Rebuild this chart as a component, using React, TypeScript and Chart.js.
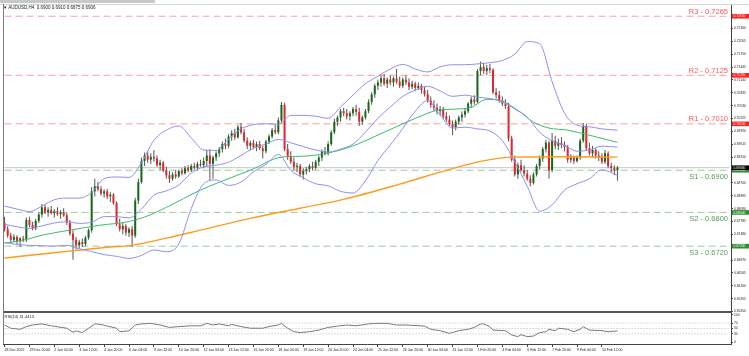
import React, { useEffect, useRef } from "react";
import { Chart, registerables } from "chart.js";

Chart.register(...registerables);

// ---------- data ----------
const SYMBOL = "AUDUSD,H4";
const DATE_LABELS = [
  "28 Dec 2022", "29 Dec 20:00", "2 Jan 04:00", "3 Jan 12:00", "4 Jan 20:00",
  "6 Jan 04:00", "9 Jan 12:00", "10 Jan 20:00", "12 Jan 04:00", "13 Jan 12:00",
  "16 Jan 20:00", "18 Jan 04:00", "19 Jan 12:00", "20 Jan 20:00", "24 Jan 04:00",
  "25 Jan 12:00", "26 Jan 20:00", "30 Jan 04:00", "31 Jan 12:00", "1 Feb 20:00",
  "3 Feb 04:00", "6 Feb 12:00", "7 Feb 20:00", "9 Feb 04:00", "10 Feb 12:00",
];
const LABEL_STEP = 8;
const SLOTS = 234;

const OPEN = [
  0.6775,0.6760,0.6745,0.6735,0.6742,0.6732,0.6738,0.6735,0.6782,0.6770,
  0.6762,0.6780,0.6795,0.6812,0.6800,0.6806,0.6798,0.6803,0.6796,0.6800,
  0.6793,0.6776,0.6750,0.6735,0.6722,0.6730,0.6725,0.6740,0.6758,0.6850,
  0.6862,0.6855,0.6845,0.6850,0.6838,0.6842,0.6822,0.6772,0.6760,0.6768,
  0.6752,0.6760,0.6745,0.6828,0.6872,0.6922,0.6935,0.6925,0.6932,0.6928,
  0.6912,0.6918,0.6900,0.6888,0.6880,0.6890,0.6885,0.6898,0.6893,0.6905,
  0.6900,0.6910,0.6906,0.6915,0.6912,0.6922,0.6935,0.6915,0.6930,0.6940,
  0.6950,0.6962,0.6958,0.6980,0.6988,0.6978,0.7002,0.6990,0.6970,0.6958,
  0.6965,0.6955,0.6962,0.6952,0.6945,0.6968,0.6980,0.6995,0.6990,0.7018,
  0.7055,0.6950,0.6932,0.6920,0.6908,0.6910,0.6890,0.6898,0.6902,0.6910,
  0.6906,0.6920,0.6930,0.6945,0.6940,0.6962,0.6990,0.7015,0.7025,0.7040,
  0.7035,0.7028,0.7035,0.7045,0.7038,0.7015,0.7025,0.7040,0.7062,0.7080,
  0.7100,0.7108,0.7118,0.7105,0.7115,0.7108,0.7118,0.7110,0.7100,0.7115,
  0.7108,0.7098,0.7105,0.7095,0.7100,0.7090,0.7080,0.7065,0.7055,0.7048,
  0.7040,0.7045,0.7028,0.7020,0.7010,0.7002,0.7015,0.7025,0.7032,0.7040,
  0.7058,0.7068,0.7062,0.7135,0.7145,0.7135,0.7142,0.7138,0.7085,0.7078,
  0.7065,0.7058,0.7052,0.6975,0.6925,0.6890,0.6912,0.6900,0.6892,0.6880,
  0.6870,0.6890,0.6910,0.6928,0.6950,0.6965,0.6900,0.6970,0.6958,0.6965,
  0.6960,0.6955,0.6925,0.6930,0.6922,0.6930,0.6970,0.7005,0.6952,0.6940,
  0.6948,0.6935,0.6930,0.6920,0.6940,0.6910,0.6905,0.6900,
];
const HIGH = [
  0.6790,0.6768,0.6752,0.6748,0.6746,0.6742,0.6745,0.6788,0.6790,0.6778,
  0.6785,0.6800,0.6820,0.6818,0.6812,0.6815,0.6808,0.6812,0.6806,0.6810,
  0.6800,0.6782,0.6758,0.6742,0.6735,0.6738,0.6745,0.6762,0.6860,0.6880,
  0.6872,0.6862,0.6855,0.6856,0.6848,0.6846,0.6826,0.6785,0.6775,0.6772,
  0.6765,0.6768,0.6835,0.6880,0.6930,0.6942,0.6945,0.6940,0.6948,0.6935,
  0.6925,0.6922,0.6908,0.6898,0.6895,0.6900,0.6902,0.6905,0.6910,0.6912,
  0.6915,0.6918,0.6920,0.6925,0.6930,0.6948,0.6950,0.6935,0.6945,0.6955,
  0.6968,0.6975,0.6985,0.6995,0.6998,0.7008,0.7012,0.6998,0.6978,0.6970,
  0.6972,0.6968,0.6970,0.6958,0.6972,0.6985,0.7000,0.7008,0.7025,0.7062,
  0.7060,0.6962,0.6945,0.6930,0.6918,0.6915,0.6905,0.6908,0.6915,0.6920,
  0.6925,0.6935,0.6950,0.6955,0.6968,0.6995,0.7022,0.7030,0.7045,0.7048,
  0.7045,0.7040,0.7050,0.7055,0.7048,0.7030,0.7045,0.7068,0.7085,0.7105,
  0.7115,0.7125,0.7128,0.7120,0.7125,0.7122,0.7140,0.7122,0.7120,0.7125,
  0.7118,0.7112,0.7110,0.7108,0.7105,0.7098,0.7090,0.7075,0.7065,0.7058,
  0.7052,0.7050,0.7038,0.7030,0.7018,0.7020,0.7030,0.7040,0.7045,0.7062,
  0.7075,0.7078,0.7140,0.7158,0.7155,0.7150,0.7152,0.7142,0.7095,0.7088,
  0.7075,0.7068,0.7060,0.6982,0.6935,0.6918,0.6925,0.6912,0.6900,0.6888,
  0.6895,0.6915,0.6935,0.6955,0.6972,0.6970,0.6988,0.6982,0.6975,0.6978,
  0.6968,0.6960,0.6938,0.6935,0.6935,0.6975,0.7012,0.7010,0.6965,0.6958,
  0.6952,0.6945,0.6940,0.6948,0.6945,0.6918,0.6912,0.6910,
];
const LOW = [
  0.6755,0.6740,0.6728,0.6730,0.6725,0.6718,0.6730,0.6730,0.6765,0.6758,
  0.6758,0.6775,0.6788,0.6796,0.6790,0.6795,0.6788,0.6792,0.6785,0.6790,
  0.6770,0.6745,0.6688,0.6712,0.6715,0.6718,0.6720,0.6735,0.6752,0.6838,
  0.6850,0.6840,0.6835,0.6832,0.6825,0.6818,0.6768,0.6755,0.6748,0.6745,
  0.6742,0.6718,0.6740,0.6820,0.6868,0.6910,0.6918,0.6915,0.6920,0.6908,
  0.6900,0.6895,0.6880,0.6870,0.6875,0.6880,0.6882,0.6888,0.6890,0.6895,
  0.6896,0.6902,0.6900,0.6908,0.6905,0.6908,0.6876,0.6880,0.6922,0.6932,
  0.6942,0.6950,0.6952,0.6970,0.6972,0.6975,0.6985,0.6965,0.6950,0.6948,
  0.6950,0.6945,0.6948,0.6928,0.6940,0.6962,0.6975,0.6985,0.6985,0.7012,
  0.6945,0.6925,0.6915,0.6900,0.6895,0.6885,0.6878,0.6890,0.6895,0.6900,
  0.6902,0.6910,0.6922,0.6935,0.6935,0.6958,0.6985,0.7005,0.7015,0.7028,
  0.7020,0.7018,0.7028,0.7030,0.7005,0.7008,0.7020,0.7035,0.7055,0.7072,
  0.7090,0.7098,0.7100,0.7095,0.7102,0.7098,0.7105,0.7095,0.7095,0.7102,
  0.7090,0.7092,0.7088,0.7090,0.7082,0.7075,0.7060,0.7048,0.7040,0.7032,
  0.7030,0.7022,0.7015,0.7005,0.6983,0.6995,0.7008,0.7015,0.7025,0.7035,
  0.7048,0.7055,0.7058,0.7125,0.7128,0.7125,0.7130,0.7080,0.7070,0.7060,
  0.7052,0.7045,0.6968,0.6920,0.6885,0.6880,0.6895,0.6885,0.6875,0.6862,
  0.6866,0.6885,0.6902,0.6920,0.6942,0.6880,0.6895,0.6950,0.6948,0.6952,
  0.6945,0.6918,0.6918,0.6915,0.6918,0.6925,0.6965,0.6948,0.6935,0.6930,
  0.6928,0.6922,0.6915,0.6915,0.6905,0.6895,0.6888,0.6875,
];
const CLOSE = [
  0.6760,0.6745,0.6735,0.6742,0.6732,0.6738,0.6735,0.6782,0.6770,0.6762,
  0.6780,0.6795,0.6812,0.6800,0.6806,0.6798,0.6803,0.6796,0.6800,0.6793,
  0.6776,0.6750,0.6735,0.6722,0.6730,0.6725,0.6740,0.6758,0.6850,0.6862,
  0.6855,0.6845,0.6850,0.6838,0.6842,0.6822,0.6772,0.6760,0.6768,0.6752,
  0.6760,0.6745,0.6828,0.6872,0.6922,0.6935,0.6925,0.6932,0.6928,0.6912,
  0.6918,0.6900,0.6888,0.6880,0.6890,0.6885,0.6898,0.6893,0.6905,0.6900,
  0.6910,0.6906,0.6915,0.6912,0.6922,0.6935,0.6915,0.6930,0.6940,0.6950,
  0.6962,0.6958,0.6980,0.6988,0.6978,0.7002,0.6990,0.6970,0.6958,0.6965,
  0.6955,0.6962,0.6952,0.6945,0.6968,0.6980,0.6995,0.6990,0.7018,0.7055,
  0.6950,0.6932,0.6920,0.6908,0.6910,0.6890,0.6898,0.6902,0.6910,0.6906,
  0.6920,0.6930,0.6945,0.6940,0.6962,0.6990,0.7015,0.7025,0.7040,0.7035,
  0.7028,0.7035,0.7045,0.7038,0.7015,0.7025,0.7040,0.7062,0.7080,0.7100,
  0.7108,0.7118,0.7105,0.7115,0.7108,0.7118,0.7110,0.7100,0.7115,0.7108,
  0.7098,0.7105,0.7095,0.7100,0.7090,0.7080,0.7065,0.7055,0.7048,0.7040,
  0.7045,0.7028,0.7020,0.7010,0.7002,0.7015,0.7025,0.7032,0.7040,0.7058,
  0.7068,0.7062,0.7135,0.7145,0.7135,0.7142,0.7138,0.7085,0.7078,0.7065,
  0.7058,0.7052,0.6975,0.6925,0.6890,0.6912,0.6900,0.6892,0.6880,0.6870,
  0.6890,0.6910,0.6928,0.6950,0.6965,0.6900,0.6970,0.6958,0.6965,0.6960,
  0.6955,0.6925,0.6930,0.6922,0.6930,0.6970,0.7005,0.6952,0.6940,0.6948,
  0.6935,0.6930,0.6920,0.6940,0.6910,0.6905,0.6900,0.6906,
];

// Bollinger bands (read at sample bars)
const BB_BARS = [
  0,4,8,12,16,20,24,28,32,36,40,44,48,52,56,60,64,68,72,76,80,84,88,92,96,
  100,104,108,112,116,120,124,128,132,136,140,144,148,152,156,160,164,168,172,176,180,184,188,192,197,
];
const BB_UPPER = [
  0.6815,0.6808,0.6802,0.6815,0.6830,0.6834,0.6834,0.6847,0.6880,0.6884,0.6883,0.6918,0.6971,0.6995,0.7005,0.6977,0.6948,0.6947,0.6974,0.6998,0.7008,0.7010,0.7009,0.7030,0.7030,
  0.7028,0.7023,0.7050,0.7078,0.7105,0.7123,0.7140,0.7151,0.7140,0.7133,0.7145,0.7150,0.7150,0.7152,0.7155,0.7160,0.7175,0.7205,0.7200,0.7110,0.7035,0.7007,0.7003,0.6998,0.6995,
];
const BB_MIDDLE = [
  0.6772,0.6766,0.6762,0.6768,0.6775,0.6778,0.6774,0.6777,0.6790,0.6790,0.6787,0.6808,0.6841,0.6851,0.6865,0.6893,0.6908,0.6912,0.6919,0.6935,0.6952,0.6962,0.6973,0.6965,0.6956,
  0.6948,0.6943,0.6950,0.6962,0.6990,0.7023,0.7050,0.7075,0.7090,0.7099,0.7088,0.7075,0.7078,0.7073,0.7070,0.7062,0.7045,0.7026,0.6990,0.6970,0.6959,0.6945,0.6948,0.6957,0.6955,
];
const BB_LOWER = [
  0.6729,0.6724,0.6722,0.6721,0.6720,0.6722,0.6714,0.6707,0.6700,0.6696,0.6691,0.6698,0.6711,0.6707,0.6725,0.6809,0.6868,0.6877,0.6864,0.6872,0.6896,0.6914,0.6937,0.6900,0.6882,
  0.6868,0.6863,0.6850,0.6846,0.6875,0.6923,0.6960,0.6999,0.7040,0.7065,0.7031,0.7000,0.7002,0.6998,0.6993,0.6970,0.6920,0.6862,0.6803,0.6818,0.6853,0.6868,0.6880,0.6901,0.6888,
];

// moving averages (read at sample bars)
const GREEN_BARS = [0,6,12,21,31,39,45,52,63,73,79,89,95,102,111,122,133,139,145,150,155,159,165,170,175,181,188,197];
const GREEN_MA = [
  0.6727,0.6734,0.6746,0.6758,0.6770,0.6777,0.6789,0.6812,0.6853,0.6883,0.6900,0.6931,0.6933,0.6938,
  0.6955,0.6990,0.7026,0.7042,0.7045,0.7049,0.7068,0.7066,0.7042,0.7014,0.7000,0.6995,0.6983,0.6966,
];
const ORANGE_BARS = [0,9,23,34,41,52,63,79,95,109,127,143,153,163,179,197];
const ORANGE_MA = [0.6692,0.6699,0.6710,0.6718,0.6722,0.6739,0.6758,0.6786,0.6810,0.6831,0.6867,0.6902,0.6921,0.6931,0.6932,0.6931];

// RSI(14)
const RSI_BARS = [
  0,2,5,7,9,12,15,20,22,23,25,27,29,31,33,36,37,40,42,44,47,50,53,56,60,63,65,67,69,72,73,76,79,83,85,88,89,
  91,93,95,98,101,104,107,110,113,117,119,123,126,129,135,137,140,143,146,149,151,153,154,156,157,161,163,
  165,166,168,170,172,174,175,177,178,181,183,185,186,188,192,194,197,
];
const RSI_VALUES = [
  63,51,47,57,63,67,60,51,36,41,35,51,67,65,59,51,38,41,63,67,69,63,54,57,60,60,69,63,67,60,65,57,51,51,57,63,69,
  51,38,35,38,44,54,59,63,60,67,69,69,63,63,59,47,42,32,42,47,54,67,67,57,44,42,26,
  20,27,20,22,35,38,47,42,51,47,38,47,57,44,42,38,41,
];
const RSI_TEXT = "RSI(14) 41.4413";

// levels and axis ticks
const RES_NAMES = ["R3", "R2", "R1"];
const RES_LEVELS = [0.7265, 0.7125, 0.701];
const SUP_NAMES = ["S1", "S2", "S3"];
const SUP_LEVELS = [0.69, 0.68, 0.672];
const PRICE_TICKS = [
  0.7236, 0.72055, 0.7175, 0.71445, 0.7114, 0.70835, 0.7053, 0.70225, 0.6992, 0.69615, 0.6931,
  0.687, 0.68395, 0.6809, 0.67785, 0.6748, 0.6687, 0.66565, 0.6626, 0.65955, 0.6565,
];
const PRICE_MIN = 0.6564;
const PRICE_MAX = 0.7294;
const RSI_TICKS = [0, 30, 50, 70, 100];
const RSI_LEVELS = [70, 50, 30];
const RSI_MIN = -7.4;
const RSI_MAX = 111.1;

// ---------- helpers ----------
const FONT = '"Liberation Sans", Arial, sans-serif';
const SLOT_LABELS = Array.from({ length: SLOTS }, (_, i) => i);
const pts = (bars: number[], vals: number[]) => bars.map((b, i) => ({ x: b, y: vals[i] }));
const flat = (v: number) => [{ x: 0, y: v }, { x: SLOTS - 1, y: v }];

const UP = "#17691a";
const DOWN = "#e4262a";
const WICK = "#555555";
const RED_LINE = "#ff9e9e";
const GREEN_LINE = "#9fcb9f";
const RED_TEXT = "#ff5a5a";
const GREEN_TEXT = "#5a9c5a";

function lineDs(data: any[], color: string, width = 1, order = 1, extra: any = {}) {
  return {
    type: "line",
    data,
    borderColor: color,
    borderWidth: width,
    pointRadius: 0,
    fill: false,
    order,
    ...extra,
  };
}

const mainPlugin = {
  id: "mainDecor",
  afterDraw(chart: any) {
    const ctx = chart.ctx;
    const y = chart.scales.y;
    ctx.save();
    ctx.fillStyle = "#c8c8c8";
    ctx.fillRect(0, 0, 155, 3);
    ctx.strokeStyle = "#d6d6d6";
    ctx.lineWidth = 1;
    ctx.beginPath();
    ctx.moveTo(0, 4.5);
    ctx.lineTo(749, 4.5);
    ctx.stroke();
    ctx.strokeStyle = "#7a7a7a";
    ctx.beginPath();
    ctx.moveTo(3.5, 4);
    ctx.lineTo(3.5, 313);
    ctx.stroke();

    const n = CLOSE.length - 1;
    ctx.fillStyle = "#222";
    ctx.font = `4.5px ${FONT}`;
    ctx.textAlign = "left";
    ctx.textBaseline = "middle";
    ctx.fillText(
      `\u25BE ${SYMBOL}  ${OPEN[n].toFixed(4)} ${HIGH[n].toFixed(4)} ${LOW[n].toFixed(4)} ${CLOSE[n].toFixed(4)}`,
      4, 8
    );

    ctx.font = `7.5px ${FONT}`;
    ctx.textAlign = "right";
    ctx.textBaseline = "alphabetic";
    RES_LEVELS.forEach((v, i) => {
      ctx.fillStyle = RED_TEXT;
      ctx.fillText(`${RES_NAMES[i]} - ${v.toFixed(4)}`, 728, y.getPixelForValue(v) - 2.5);
    });
    SUP_LEVELS.forEach((v, i) => {
      ctx.fillStyle = GREEN_TEXT;
      ctx.fillText(`${SUP_NAMES[i]} - ${v.toFixed(4)}`, 728, y.getPixelForValue(v) + 8.5);
    });

    const box = (v: number, bg: string) => {
      const py = y.getPixelForValue(v);
      ctx.fillStyle = bg;
      ctx.fillRect(732, py - 2.3, 17, 4.6);
      ctx.fillStyle = "#fff";
      ctx.font = `3.3px ${FONT}`;
      ctx.textAlign = "left";
      ctx.textBaseline = "middle";
      ctx.fillText(v.toFixed(5), 733.5, py + 0.2);
    };
    RES_LEVELS.forEach((v) => box(v, "#ff1f1f"));
    SUP_LEVELS.forEach((v) => box(v, "#2e8b2e"));
    box(CLOSE[n], "#000000");
    ctx.restore();
  },
};

const rsiPlugin = {
  id: "rsiDecor",
  afterDraw(chart: any) {
    const ctx = chart.ctx;
    const { left, right, bottom } = chart.chartArea;
    ctx.save();
    ctx.fillStyle = "#555";
    ctx.fillRect(left, 1, right - left + 1, 2);
    ctx.strokeStyle = "#7a7a7a";
    ctx.lineWidth = 1;
    ctx.beginPath();
    ctx.moveTo(3.5, 0);
    ctx.lineTo(3.5, bottom);
    ctx.stroke();
    ctx.fillStyle = "#222";
    ctx.font = `4px ${FONT}`;
    ctx.textAlign = "left";
    ctx.textBaseline = "middle";
    ctx.fillText(RSI_TEXT, 4.5, 6.5);
    ctx.restore();
  },
};

function mainConfig(): any {
  const bodyColors = OPEN.map((o, i) => (CLOSE[i] >= o ? UP : DOWN));
  const n = CLOSE.length - 1;
  return {
    type: "bar",
    data: {
      labels: SLOT_LABELS,
      datasets: [
        lineDs(pts(BB_BARS, BB_UPPER), "#8f8ff0", 1, 1, { cubicInterpolationMode: "monotone" }),
        lineDs(pts(BB_BARS, BB_MIDDLE), "#8f8ff0", 1, 1, { cubicInterpolationMode: "monotone" }),
        lineDs(pts(BB_BARS, BB_LOWER), "#8f8ff0", 1, 1, { cubicInterpolationMode: "monotone" }),
        lineDs(pts(GREEN_BARS, GREEN_MA), "#3dba6f", 1, 1, { cubicInterpolationMode: "monotone" }),
        lineDs(pts(ORANGE_BARS, ORANGE_MA), "#ff9c1e", 1.4, 1, { cubicInterpolationMode: "monotone" }),
        {
          type: "bar",
          data: OPEN.map((o, i) => [o, CLOSE[i]]),
          backgroundColor: bodyColors,
          barThickness: 2,
          grouped: false,
          minBarLength: 1,
          inflateAmount: 0,
          order: 2,
        },
        {
          type: "bar",
          data: LOW.map((l, i) => [l, HIGH[i]]),
          backgroundColor: WICK,
          barThickness: 1,
          grouped: false,
          inflateAmount: 0,
          order: 3,
        },
        lineDs(flat(CLOSE[n]), "#c4c4c4", 1, 4),
        ...RES_LEVELS.map((v) => lineDs(flat(v), RED_LINE, 1, 5, { borderDash: [7, 4] })),
        ...SUP_LEVELS.map((v) => lineDs(flat(v), GREEN_LINE, 1, 5, { borderDash: [7, 4] })),
      ],
    },
    options: {
      responsive: false,
      animation: false,
      layout: { padding: { left: 3, top: 4, right: 0, bottom: 1 } },
      plugins: { legend: { display: false }, tooltip: { enabled: false } },
      scales: {
        x: { type: "category", display: false, offset: true },
        y: {
          position: "right",
          min: PRICE_MIN,
          max: PRICE_MAX,
          afterBuildTicks: (s: any) => {
            s.ticks = PRICE_TICKS.map((v) => ({ value: v }));
          },
          afterFit: (s: any) => {
            s.width = 18;
            s.paddingTop = 0;
            s.paddingBottom = 0;
          },
          ticks: {
            autoSkip: false,
            padding: 1,
            color: "#222",
            font: { size: 3.3, family: FONT },
            callback: (v: any) => Number(v).toFixed(5),
          },
          grid: { drawOnChartArea: false, tickLength: 2, color: "#444" },
          border: { color: "#444" },
        },
      },
    },
    plugins: [mainPlugin],
  };
}

function rsiConfig(): any {
  return {
    type: "line",
    data: {
      labels: SLOT_LABELS,
      datasets: [
        lineDs(pts(RSI_BARS, RSI_VALUES), "#7a7a7a", 1, 1),
        ...RSI_LEVELS.map((v) => lineDs(flat(v), "#b8b8b8", 1, 2, { borderDash: [1, 2] })),
      ],
    },
    options: {
      responsive: false,
      animation: false,
      layout: { padding: { left: 3, top: 2, right: 0, bottom: 0 } },
      plugins: { legend: { display: false }, tooltip: { enabled: false } },
      scales: {
        x: {
          type: "category",
          offset: true,
          afterFit: (s: any) => {
            s.height = 12;
            s.paddingLeft = 0;
            s.paddingRight = 0;
          },
          ticks: {
            autoSkip: false,
            maxRotation: 0,
            minRotation: 0,
            align: "start",
            padding: 1,
            color: "#222",
            font: { size: 3.5, family: FONT },
            callback: (_v: any, i: number) =>
              i % LABEL_STEP === 0 && i / LABEL_STEP < DATE_LABELS.length ? DATE_LABELS[i / LABEL_STEP] : "",
          },
          grid: {
            drawOnChartArea: false,
            offset: false,
            tickLength: 3,
            color: (c: any) =>
              c.index % LABEL_STEP === 0 && c.index / LABEL_STEP < DATE_LABELS.length ? "#444" : "rgba(0,0,0,0)",
          },
          border: { color: "#444" },
        },
        y: {
          position: "right",
          min: RSI_MIN,
          max: RSI_MAX,
          afterBuildTicks: (s: any) => {
            s.ticks = RSI_TICKS.map((v) => ({ value: v }));
          },
          afterFit: (s: any) => {
            s.width = 18;
            s.paddingTop = 0;
            s.paddingBottom = 0;
          },
          ticks: { autoSkip: false, padding: 1, color: "#222", font: { size: 3.3, family: FONT } },
          grid: { drawOnChartArea: false, tickLength: 2, color: "#444" },
          border: { color: "#444" },
        },
      },
    },
    plugins: [rsiPlugin],
  };
}

export default function App() {
  const mainRef = useRef<HTMLCanvasElement>(null);
  const rsiRef = useRef<HTMLCanvasElement>(null);
  useEffect(() => {
    document.body.style.margin = "0";
    const main = new Chart(mainRef.current as HTMLCanvasElement, mainConfig());
    const rsi = new Chart(rsiRef.current as HTMLCanvasElement, rsiConfig());
    return () => {
      main.destroy();
      rsi.destroy();
    };
  }, []);
  return (
    <div style={{ position: "relative", width: 749, height: 356, background: "#fff", overflow: "hidden" }}>
      <canvas ref={mainRef} width={749} height={313} style={{ position: "absolute", left: 0, top: 0 }} />
      <canvas ref={rsiRef} width={749} height={46} style={{ position: "absolute", left: 0, top: 310 }} />
    </div>
  );
}
